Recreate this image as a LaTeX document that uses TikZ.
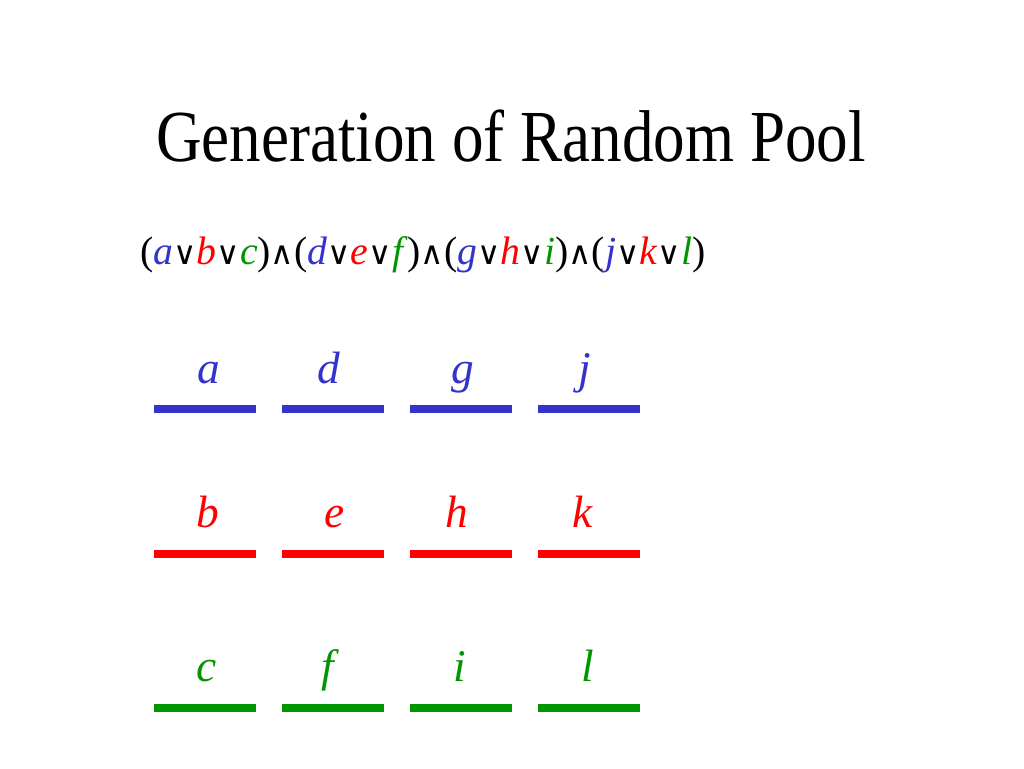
\documentclass[tikz,border=0pt]{standalone}
\usepackage{fontspec}
\setmainfont{Liberation Serif}
\newfontfamily\symfont{DejaVu Sans}
\usetikzlibrary{positioning}
\definecolor{litblue}{RGB}{51, 51, 204}
\definecolor{litred}{RGB}{255, 0, 0}
\definecolor{litgreen}{RGB}{0, 150, 0}
\newcommand{\disj}{{\symfont\fontsize{24}{28}\selectfont\char"2228}}
\newcommand{\conj}{{\symfont\fontsize{24}{28}\selectfont\char"2227}}
\newcommand{\lit}[2]{\textcolor{#1}{\textit{#2}}}

\begin{document}
\begin{tikzpicture}[x=0.75pt, y=-0.75pt,
                bar/.style={rectangle, inner sep=0pt, minimum width=76.5pt, minimum height=6pt},
                letter/.style={anchor=base, inner sep=0pt, font=\fontsize{34}{40}\selectfont\itshape}]
                \useasboundingbox (0,0) rectangle (1024,768);
                
                % Title
                \node[anchor=base, inner sep=0pt, font=\fontsize{55}{66}\selectfont, xscale=0.86] (title) at (511,161) {Generation of Random Pool};
                
                % Formula
                \node[anchor=base west, inner sep=0pt, font=\fontsize{29.8}{36}\selectfont] (formula) at (140,264)
                    {(\lit{litblue}{a}\disj\lit{litred}{b}\disj\lit{litgreen}{c})\conj(\lit{litblue}{d}\disj\lit{litred}{e}\disj\lit{litgreen}{f})\conj(\lit{litblue}{g}\disj\lit{litred}{h}\disj\lit{litgreen}{i})\conj(\lit{litblue}{j}\disj\lit{litred}{k}\disj\lit{litgreen}{l})};
                
                % First literals
                \node[bar, fill=litblue] (ba) at (204.5,409) {};
                \node[bar, fill=litblue] (bd) at (333,409) {};
                \node[bar, fill=litblue] (bg) at (460.5,409) {};
                \node[bar, fill=litblue] (bj) at (588.5,409) {};
                \node[letter, litblue] (la) at (209,383) {a};
                \node[letter, litblue] (ld) at (329,383) {d};
                \node[letter, litblue] (lg) at (463,383) {g};
                \node[letter, litblue] (lj) at (585,383) {j};
                
                % Second literals
                \node[bar, fill=litred] (bb) at (204.5,554) {};
                \node[bar, fill=litred] (be) at (333,554) {};
                \node[bar, fill=litred] (bh) at (460.5,554) {};
                \node[bar, fill=litred] (bk) at (588.5,554) {};
                \node[letter, litred] (lb) at (208,527) {b};
                \node[letter, litred] (le) at (335,527) {e};
                \node[letter, litred] (lh) at (457,527) {h};
                \node[letter, litred] (lk) at (583,527) {k};
                
                % Third literals
                \node[bar, fill=litgreen] (bc) at (204.5,708) {};
                \node[bar, fill=litgreen] (bf) at (333,708) {};
                \node[bar, fill=litgreen] (bi) at (460.5,708) {};
                \node[bar, fill=litgreen] (bl) at (588.5,708) {};
                \node[letter, litgreen] (lc) at (207,681) {c};
                \node[letter, litgreen] (lf) at (328,681) {f};
                \node[letter, litgreen] (li) at (460,681) {i};
                \node[letter, litgreen] (ll) at (588,681) {l};
                
            \end{tikzpicture}
\end{document}
